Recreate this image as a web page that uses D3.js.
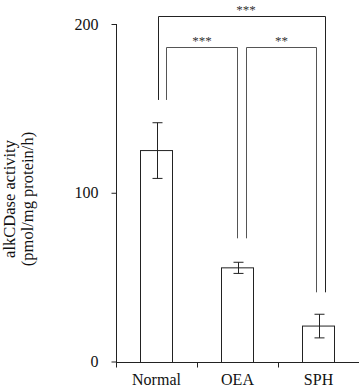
<!DOCTYPE html>
<html>
<head>
<meta charset="utf-8">
<script src="https://cdn.jsdelivr.net/npm/d3@7"></script>
<style>
  body { margin: 0; background: #fff; }
  text { font-family: "Liberation Serif", "DejaVu Serif", serif; fill: #111; }
</style>
</head>
<body>
<div id="chart"></div>
<script>
// data
const groups = ["Normal", "OEA", "SPH"];
const means = [125, 55.5, 21];
const errors = [16.5, 3.3, 7];
const yTicks = [0, 100, 200];

// significance brackets: [from, to], height of bar, where legs stop, label
const pairs = [["Normal", "SPH"], ["Normal", "OEA"], ["OEA", "SPH"]];
const pairTops = [205, 186.5, 186.5];
const pairLabels = ["***", "***", "**"];
const legBottoms = {Normal: 155, OEA: 73, SPH: 41};

const W = 359, H = 392;
const serif = "Liberation Serif, DejaVu Serif, serif";
const svg = d3.select("#chart").append("svg")
    .attr("width", W)
    .attr("height", H);

const x = d3.scaleBand()
    .domain(groups)
    .range([116, 359])
    .paddingInner(0.6)
    .paddingOuter(0.3);

const y = d3.scaleLinear()
    .domain([0, 200])
    .range([361.5, 24]);

const ink = "#222";

// y axis
const yAxis = svg.append("g")
    .attr("transform", "translate(116.5,0)")
    .call(d3.axisLeft(y).tickValues(yTicks).tickSize(5).tickPadding(13).tickFormat(d3.format("d")))
    .attr("font-family", serif)
    .attr("font-size", 16);
yAxis.select(".domain").remove();
yAxis.selectAll("line").attr("stroke", ink);
yAxis.selectAll("text").attr("fill", "#111");
svg.append("line")
    .attr("x1", 116.5).attr("x2", 116.5)
    .attr("y1", y(200)).attr("y2", y(0) + 5)
    .attr("stroke", ink);

// x axis: ticks sit on band boundaries
const y0 = Math.round(y(0)) + 0.5;
svg.append("line")
    .attr("x1", 116).attr("x2", W)
    .attr("y1", y0).attr("y2", y0)
    .attr("stroke", ink);
svg.selectAll(".xtick")
    .data(groups)
    .enter().append("line")
    .attr("class", "xtick")
    .attr("x1", (d, i) => Math.round(x.range()[0] + i * x.step()) + 0.5)
    .attr("x2", (d, i) => Math.round(x.range()[0] + i * x.step()) + 0.5)
    .attr("y1", y0).attr("y2", y0 + 5)
    .attr("stroke", ink);

const xAxis = svg.append("g")
    .attr("transform", `translate(0,${y0})`)
    .call(d3.axisBottom(x).tickSize(0).tickPadding(11))
    .attr("font-family", serif)
    .attr("font-size", 16);
xAxis.select(".domain").remove();
xAxis.selectAll("text").attr("fill", "#111");

// bars
svg.selectAll(".bar")
    .data(groups)
    .enter().append("rect")
    .attr("class", "bar")
    .attr("x", d => Math.round(x(d)) + 0.5)
    .attr("y", (d, i) => y(means[i]))
    .attr("width", Math.round(x.bandwidth()))
    .attr("height", (d, i) => y0 - y(means[i]))
    .attr("fill", "#fff")
    .attr("stroke", ink);

// error bars
const cx = d => Math.round(x(d) + x.bandwidth() / 2) + 0.5;
const eb = svg.selectAll(".err")
    .data(groups)
    .enter().append("g")
    .attr("class", "err")
    .attr("stroke", ink);
eb.append("line")
    .attr("x1", cx).attr("x2", cx)
    .attr("y1", (d, i) => y(means[i] + errors[i]))
    .attr("y2", (d, i) => y(means[i] - errors[i]));
eb.append("line")
    .attr("x1", d => cx(d) - 5).attr("x2", d => cx(d) + 5)
    .attr("y1", (d, i) => y(means[i] + errors[i]))
    .attr("y2", (d, i) => y(means[i] + errors[i]));
eb.append("line")
    .attr("x1", d => cx(d) - 5).attr("x2", d => cx(d) + 5)
    .attr("y1", (d, i) => y(means[i] - errors[i]))
    .attr("y2", (d, i) => y(means[i] - errors[i]));

// brackets - legs are nudged off the bar centre so they don't overlap
const legShift = [[1, 6], [9, -1], [8, -3]];
const br = svg.selectAll(".bracket")
    .data(pairs)
    .enter().append("g")
    .attr("class", "bracket");
br.append("path")
    .attr("fill", "none")
    .attr("stroke", (d, i) => i === 0 ? ink : "#555")
    .attr("d", (d, i) => {
        const xa = cx(d[0]) + legShift[i][0], xb = cx(d[1]) + legShift[i][1];
        const top = Math.round(y(pairTops[i])) + 0.5;
        return `M${xa},${y(legBottoms[d[0]])}V${top}H${xb}V${y(legBottoms[d[1]])}`;
    });
br.append("text")
    .attr("x", (d, i) => (cx(d[0]) + legShift[i][0] + cx(d[1]) + legShift[i][1]) / 2 + (i === 0 ? 4 : 0))
    .attr("y", (d, i) => y(pairTops[i]) - 2)
    .attr("text-anchor", "middle")
    .style("font-size", "13px")
    .style("fill", "#333")
    .text((d, i) => pairLabels[i]);

// y label
const yl = svg.append("text")
    .attr("transform", "translate(15,199) rotate(-90)")
    .attr("text-anchor", "middle")
    .style("font-size", "16.5px");
yl.append("tspan").attr("x", 0).attr("dy", 0).text("alkCDase activity");
yl.append("tspan").attr("x", 0).attr("dy", 18).text("(pmol/mg protein/h)");
</script>
</body>
</html>
